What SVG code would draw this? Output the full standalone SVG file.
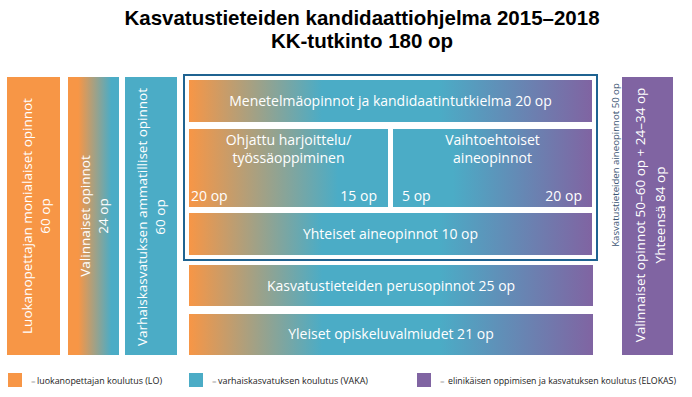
<svg xmlns="http://www.w3.org/2000/svg" width="692" height="397" viewBox="0 0 692 397">
<defs>
<linearGradient id="gOTP" x1="0" y1="0" x2="1" y2="0">
<stop offset="0" stop-color="#F79646"/><stop offset="0.33" stop-color="#4BACC6"/><stop offset="0.62" stop-color="#4BACC6"/><stop offset="1" stop-color="#8064A2"/>
</linearGradient>
<linearGradient id="gOT" x1="0" y1="0" x2="1" y2="0">
<stop offset="0" stop-color="#F79646"/><stop offset="0.75" stop-color="#4BACC6"/><stop offset="1" stop-color="#4BACC6"/>
</linearGradient>
<linearGradient id="gTP" x1="0" y1="0" x2="1" y2="0">
<stop offset="0" stop-color="#4BACC6"/><stop offset="0.3" stop-color="#4BACC6"/><stop offset="1" stop-color="#8064A2"/>
</linearGradient>
<linearGradient id="gCol" x1="0" y1="0" x2="1" y2="0">
<stop offset="0.2" stop-color="#F79646"/><stop offset="0.85" stop-color="#4BACC6"/>
</linearGradient>
</defs>
<style>
.t{font-family:"Open Sans","Liberation Sans",sans-serif;fill:#fff;font-size:14px}
.c{text-anchor:middle}
.v{font-size:13.5px}
.title{font-family:"Liberation Sans",Arial,sans-serif;font-weight:bold;font-size:20.5px;fill:#000;text-anchor:middle}
.lg{font-family:"Open Sans","Liberation Sans",sans-serif;font-size:9px;fill:#222}
.eq{font-family:"Open Sans","Liberation Sans",sans-serif;font-size:8px;fill:#aaa}
.orange{fill:#F79646}.teal{fill:#4BACC6}.purple{fill:#8064A2}
</style>
<rect width="692" height="397" fill="#fff"/>
<g id="title">
<text class="title" x="362" y="25">Kasvatustieteiden kandidaattiohjelma 2015–2018</text>
<text class="title" x="362" y="48">KK-tutkinto 180 op</text>
</g>
<g id="col-lo">
<rect class="orange" x="7" y="77" width="53" height="278"/>
<text class="t c v" transform="translate(32,216) rotate(-90)">Luokanopettajan monialaiset opinnot</text>
<text class="t c v" transform="translate(50,216) rotate(-90)">60 op</text>
</g>
<g id="col-valinnaiset">
<rect x="68" y="77" width="51" height="278" fill="url(#gCol)"/>
<text class="t c v" transform="translate(90,216) rotate(-90)">Valinnaiset opinnot</text>
<text class="t c v" transform="translate(108,216) rotate(-90)">24 op</text>
</g>
<g id="col-vaka">
<rect class="teal" x="125" y="77" width="52" height="278"/>
<text class="t c v" transform="translate(147,217) rotate(-90)">Varhaiskasvatuksen ammatilliset opinnot</text>
<text class="t c v" transform="translate(165,217) rotate(-90)">60 op</text>
</g>
<g id="aineopinnot">
<rect x="184" y="75" width="413" height="185" fill="none" stroke="#1F6391" stroke-width="2"/>
<text transform="translate(619,165) rotate(-90)" text-anchor="middle" font-family="Open Sans, Liberation Sans, sans-serif" font-size="9.6" fill="#3B5573">Kasvatustieteiden aineopinnot 50 op</text>
</g>
<g id="menetelma">
<rect x="189" y="80" width="403" height="42" fill="url(#gOTP)"/>
<text class="t c" x="390.5" y="106">Menetelmäopinnot ja kandidaatintutkielma 20 op</text>
</g>
<g id="ohjattu">
<rect x="189" y="129" width="199" height="78" fill="url(#gOT)"/>
<text class="t c" x="288.5" y="145">Ohjattu harjoittelu/</text>
<text class="t c" x="288.5" y="163">työssäoppiminen</text>
<text class="t" x="191" y="201">20 op</text>
<text class="t" x="377" y="201" text-anchor="end">15 op</text>
</g>
<g id="vaihtoehtoiset">
<rect x="393" y="129" width="199" height="78" fill="url(#gTP)"/>
<text class="t c" x="492.5" y="145">Vaihtoehtoiset</text>
<text class="t c" x="492.5" y="163">aineopinnot</text>
<text class="t" x="402" y="201">5 op</text>
<text class="t" x="582" y="201" text-anchor="end">20 op</text>
</g>
<g id="yhteiset">
<rect x="189" y="213" width="403" height="42" fill="url(#gOTP)"/>
<text class="t c" x="390.5" y="239">Yhteiset aineopinnot 10 op</text>
</g>
<g id="perusopinnot">
<rect x="189" y="265" width="404" height="41" fill="url(#gOTP)"/>
<text class="t c" x="391" y="291">Kasvatustieteiden perusopinnot 25 op</text>
</g>
<g id="yleiset">
<rect x="189" y="314" width="404" height="41" fill="url(#gOTP)"/>
<text class="t c" x="391" y="339">Yleiset opiskeluvalmiudet 21 op</text>
</g>
<g id="col-elokas">
<rect class="purple" x="622" y="77" width="51" height="278"/>
<text class="t c v" transform="translate(645,215) rotate(-90)">Valinnaiset opinnot 50–60 op + 24–34 op</text>
<text class="t c v" transform="translate(665,215) rotate(-90)">Yhteensä 84 op</text>
</g>
<g id="legend">
<rect class="orange" x="8" y="373" width="14" height="14"/>
<text class="eq" x="31" y="384">=</text>
<text class="lg" x="37" y="384" textLength="125" lengthAdjust="spacingAndGlyphs">luokanopettajan koulutus (LO)</text>
<rect class="teal" x="189" y="373" width="14" height="14"/>
<text class="eq" x="212" y="384">=</text>
<text class="lg" x="218" y="384" textLength="150" lengthAdjust="spacingAndGlyphs">varhaiskasvatuksen koulutus (VAKA)</text>
<rect class="purple" x="417" y="373" width="14" height="14"/>
<text class="eq" x="440" y="384">=</text>
<text class="lg" x="448" y="384" textLength="228" lengthAdjust="spacingAndGlyphs">elinikäisen oppimisen ja kasvatuksen koulutus (ELOKAS)</text>
</g>
</svg>
